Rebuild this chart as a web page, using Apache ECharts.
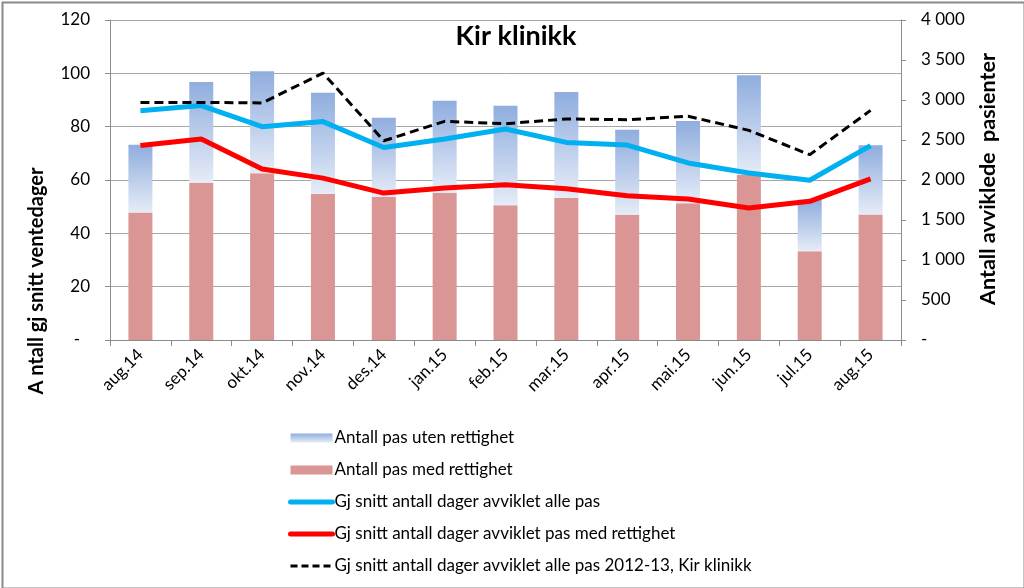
<!DOCTYPE html>
<html>
<head>
<meta charset="utf-8">
<script src="https://cdn.jsdelivr.net/npm/echarts@6/dist/echarts.min.js"></script>
<style>
  html, body { margin: 0; padding: 0; background: #fff; }
  #chart { width: 1024px; height: 588px; }
</style>
</head>
<body>
<div id="chart"></div>
<script>
const categories = ['aug.14','sep.14','okt.14','nov.14','des.14','jan.15','feb.15','mar.15','apr.15','mai.15','jun.15','jul.15','aug.15'];
const pasMedRettighet = [1595, 1966, 2083, 1825, 1787, 1837, 1683, 1775, 1562, 1708, 2066, 1108, 1570];
const pasUtenRettighet = [846, 1259, 1275, 1266, 992, 1154, 1246, 1325, 1067, 1029, 1242, 646, 863];
const snittAllePas = [86.0, 87.9, 80.0, 81.9, 72.2, 75.4, 79.1, 74.1, 73.1, 66.4, 62.6, 59.9, 72.9];
const snittMedRettighet = [72.9, 75.4, 64.1, 60.7, 55.1, 57.0, 58.2, 56.7, 54.1, 52.9, 49.5, 52.0, 60.4];
const snitt2012_13 = [89.1, 89.1, 88.9, 100.1, 74.7, 82.0, 81.1, 82.9, 82.6, 83.9, 78.6, 69.5, 86.1];

const FONT = 'Lato';
const chart = echarts.init(document.getElementById('chart'), null, { renderer: 'canvas' });

function fmtThousands(v) {
  if (v === 0) return '-';
  const s = String(v);
  return s.length > 3 ? s.slice(0, s.length - 3) + ' ' + s.slice(-3) : s;
}

const hiddenSymbol = { opacity: 0 };

const option = {
  backgroundColor: '#ffffff',
  animation: false,
  textStyle: { fontFamily: FONT },
  title: {
    text: 'Kir klinikk',
    left: 511, top: 18, textAlign: 'center',
    textStyle: { fontFamily: FONT, fontSize: 27, fontWeight: 'bold', color: '#000' }
  },
  grid: { left: 110, right: 123, top: 20, bottom: 248, containLabel: false },
  legend: {
    orient: 'vertical',
    left: 283, top: 423,
    itemWidth: 42, itemHeight: 9, itemGap: 12,
    textStyle: { fontFamily: FONT, fontSize: 17, color: '#000', lineHeight: 20, padding: [0, 0, 0, -3] },
    data: [
      { name: 'Antall pas uten rettighet', icon: 'rect' },
      { name: 'Antall pas med rettighet', icon: 'rect' },
      { name: 'Gj snitt antall dager avviklet alle pas', itemStyle: hiddenSymbol,
        lineStyle: { width: 5, cap: 'round' } },
      { name: 'Gj snitt antall dager avviklet pas med rettighet', itemStyle: hiddenSymbol,
        lineStyle: { width: 5, cap: 'round' } },
      { name: 'Gj snitt antall dager avviklet alle pas 2012-13, Kir klinikk', itemStyle: hiddenSymbol,
        lineStyle: { width: 3, type: [7, 4] } }
    ]
  },
  xAxis: {
    type: 'category',
    data: categories,
    boundaryGap: true,
    axisLine: { lineStyle: { color: '#8c8c8c', width: 1 } },
    axisTick: { show: true, length: 6, lineStyle: { color: '#8c8c8c' } },
    axisLabel: { rotate: 45, fontFamily: FONT, fontSize: 17, color: '#000', margin: 12 },
    splitLine: { show: false }
  },
  yAxis: [
    {
      type: 'value', min: 0, max: 120, interval: 20, position: 'left',
      axisLine: { show: true, lineStyle: { color: '#8c8c8c' } },
      axisTick: { show: true, length: 5, lineStyle: { color: '#8c8c8c' } },
      axisLabel: {
        fontFamily: FONT, fontSize: 17, color: '#000', margin: 20,
        formatter: v => v === 0 ? '-\u2007' : String(v)
      },
      splitLine: { show: true, lineStyle: { color: '#a6a6a6', width: 1 } }
    },
    {
      type: 'value', min: 0, max: 4000, interval: 500, position: 'right',
      axisLine: { show: true, lineStyle: { color: '#8c8c8c' } },
      axisTick: { show: true, length: 5, lineStyle: { color: '#8c8c8c' } },
      axisLabel: { fontFamily: FONT, fontSize: 17, color: '#000', margin: 20, formatter: fmtThousands },
      splitLine: { show: false }
    }
  ],
  graphic: [
    {
      type: 'rect', left: 0, top: 0, silent: true, z: 100,
      shape: { x: 1, y: 1, width: 1022, height: 586 },
      style: { fill: 'none', stroke: '#8a8a8a', lineWidth: 2 }
    },
    {
      type: 'text', x: 37, y: 281, rotation: Math.PI / 2,
      style: {
        text: 'A ntall gj snitt ventedager', fontFamily: FONT, fontSize: 20, fontWeight: 'bold',
        fill: '#000', textAlign: 'center', textVerticalAlign: 'middle'
      }
    },
    {
      type: 'text', x: 988, y: 179, rotation: Math.PI / 2,
      style: {
        text: 'Antall avviklede  pasienter', fontFamily: FONT, fontSize: 21.5, fontWeight: 'bold',
        fill: '#000', textAlign: 'center', textVerticalAlign: 'middle'
      }
    }
  ],
  series: [
    {
      name: 'Antall pas med rettighet', type: 'bar', stack: 'pas', yAxisIndex: 1,
      barWidth: 24, data: pasMedRettighet,
      itemStyle: { color: '#d99694' }
    },
    {
      name: 'Antall pas uten rettighet', type: 'bar', stack: 'pas', yAxisIndex: 1,
      barWidth: 24, data: pasUtenRettighet,
      itemStyle: {
        color: new echarts.graphic.LinearGradient(0, 0, 0, 1, [
          { offset: 0, color: '#8fadde' },
          { offset: 1, color: '#e6ecf7' }
        ])
      }
    },
    {
      name: 'Gj snitt antall dager avviklet alle pas', type: 'line', yAxisIndex: 0,
      data: snittAllePas, symbol: 'none', z: 3,
      lineStyle: { color: '#00b0f0', width: 5 }, itemStyle: { color: '#00b0f0' }
    },
    {
      name: 'Gj snitt antall dager avviklet pas med rettighet', type: 'line', yAxisIndex: 0,
      data: snittMedRettighet, symbol: 'none', z: 3,
      lineStyle: { color: '#ff0000', width: 5 }, itemStyle: { color: '#ff0000' }
    },
    {
      name: 'Gj snitt antall dager avviklet alle pas 2012-13, Kir klinikk', type: 'line', yAxisIndex: 0,
      data: snitt2012_13, symbol: 'none', z: 4,
      lineStyle: { color: '#000000', width: 3, type: [9, 5] }, itemStyle: { color: '#000000' }
    }
  ]
};
chart.setOption(option);
</script>
</body>
</html>
